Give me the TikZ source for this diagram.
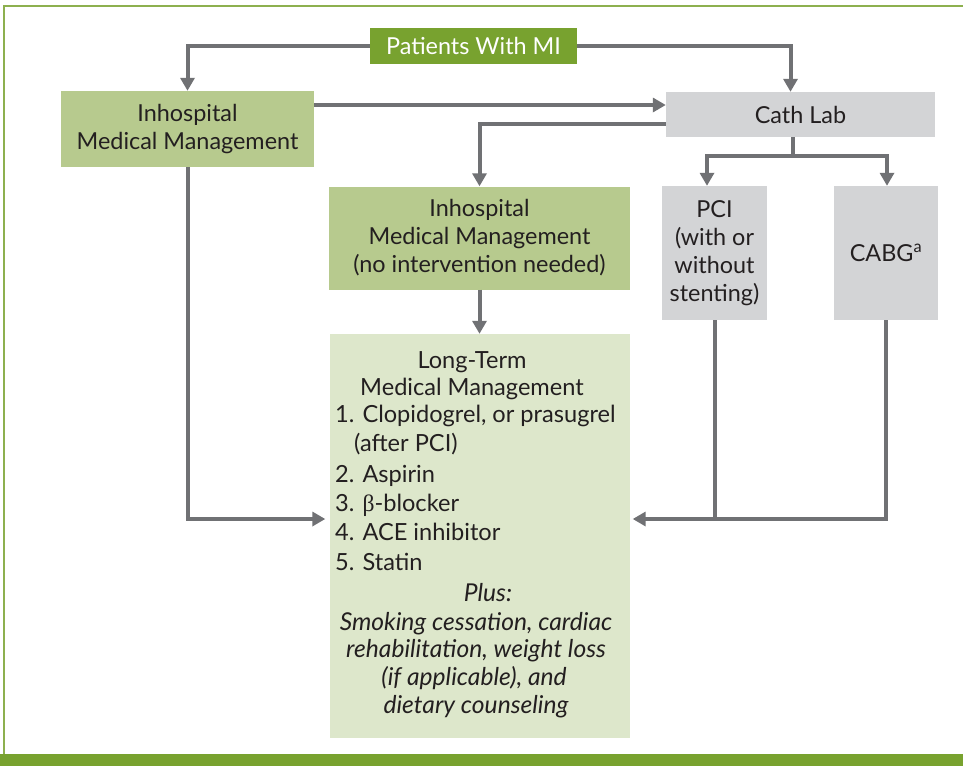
\documentclass[tikz,border=0pt]{standalone}
\usepackage{fontspec}
\setmainfont{Lato}
\newfontfamily\betafont{Liberation Serif}
\usetikzlibrary{arrows.meta}
\definecolor{dkgreen}{HTML}{78A22F}
\definecolor{mdgreen}{HTML}{B7CA8E}
\definecolor{ltgreen}{HTML}{DDE7CB}
\definecolor{boxgray}{HTML}{D3D4D6}
\definecolor{linegray}{HTML}{707174}
\definecolor{txt}{HTML}{231F20}
\definecolor{framegreen}{HTML}{8DB04F}
\begin{document}
\begin{tikzpicture}[x=1pt,y=-1pt,
  box/.style={inner sep=0pt, align=center, text=txt, font=\fontsize{23.4}{28}\selectfont},
  gbox/.style={box, fill=mdgreen},
  graybox/.style={box, fill=boxgray},
  conn/.style={draw=linegray, line width=4pt},
  arr/.style={conn, -{Triangle[length=13pt,width=14pt]}},
  ltxt/.style={inner sep=0pt, text=txt, font=\fontsize{23.6}{28}\selectfont, anchor=base},
  ltleft/.style={ltxt, anchor=base west},
  ltit/.style={ltxt, font=\fontsize{24.6}{28}\selectfont\itshape},
]
\useasboundingbox (0,0) rectangle (963,766);
\fill[white] (0,0) rectangle (963,766);
\draw[framegreen, line width=2pt] (4,755) -- (4,6) -- (963,6);
\fill[dkgreen] (0,754) rectangle (963,766);

\node[box, fill=dkgreen, text=white, minimum width=207, minimum height=36] (pm) at (473.5,46) {Patients With MI};
\node[gbox, minimum width=253, minimum height=76] (lb) at (187.5,129) {Inhospital\\Medical Management};
\node[graybox, minimum width=269, minimum height=45] (cath) at (800.5,114.5) {Cath Lab};
\node[gbox, minimum width=301, minimum height=103] (ib) at (479.5,238) {Inhospital\\Medical Management\\(no intervention needed)};
\node[graybox, minimum width=105, minimum height=134] (pci) at (714.5,253) {PCI\\(with or\\without\\stenting)};
\node[graybox, minimum width=104, minimum height=134] (cabg) at (886,253) {CABG\textsuperscript{a}};
\node[box, fill=ltgreen, minimum width=300, minimum height=404] (lt) at (479.5,536) {};

% long-term text
\node[ltxt] (t1) at (472,368) {Long-Term};
\node[ltxt] (t2) at (472,395) {Medical Management};
\node[ltleft] (t3) at (335,422) {1. Clopidogrel, or prasugrel};
\node[ltleft] (t4) at (354,451) {(after PCI)};
\node[ltleft] (t5) at (335,482) {2. Aspirin};
\node[ltleft] (t6) at (335,511) {3. {\betafont β}-blocker};
\node[ltleft] (t7) at (335,540) {4. ACE inhibitor};
\node[ltleft] (t8) at (335,570) {5. Statin};
\node[ltit] (t9) at (488,601) {Plus:};
\node[ltit] (t10) at (476,630) {Smoking cessation, cardiac};
\node[ltit] (t11) at (476,657) {rehabilitation, weight loss};
\node[ltit] (t12) at (474,685) {(if applicable), and};
\node[ltit] (t13) at (476,713) {dietary counseling};

% helper coordinates
\coordinate (ha) at (0,105);
\coordinate (hb) at (0,124);
\coordinate (hc) at (0,156);
\coordinate (j) at (0,519);
\coordinate (pl) at (707,156);
\coordinate (pr) at (887,156);

% connectors
\draw[arr] (pm.west) -| (lb.north);
\draw[arr] (pm.east) -| ([xshift=-10]cath.north);
\draw[arr] (lb.east |- ha) -- (cath.west |- ha);
\draw[arr] (cath.west |- hb) -| (ib.north);
\draw[arr] (ib.south) -- (lt.north);
\draw[conn] ([xshift=-7.5]cath.south) -- ([xshift=-7.5]cath.south |- hc);
\draw[conn, {Triangle[length=13pt,width=14pt]}-{Triangle[length=13pt,width=14pt]}] (pl |- pci.north) -- (pl) -- (pr) -- (pr |- cabg.north);
\draw[arr, shorten >=4pt] (lb.south) |- (lt.west |- j);
\draw[conn] (pci.south) -- (pci.south |- j);
\draw[arr, shorten >=3pt] (cabg.south) |- (lt.east |- j);
\end{tikzpicture}
\end{document}
